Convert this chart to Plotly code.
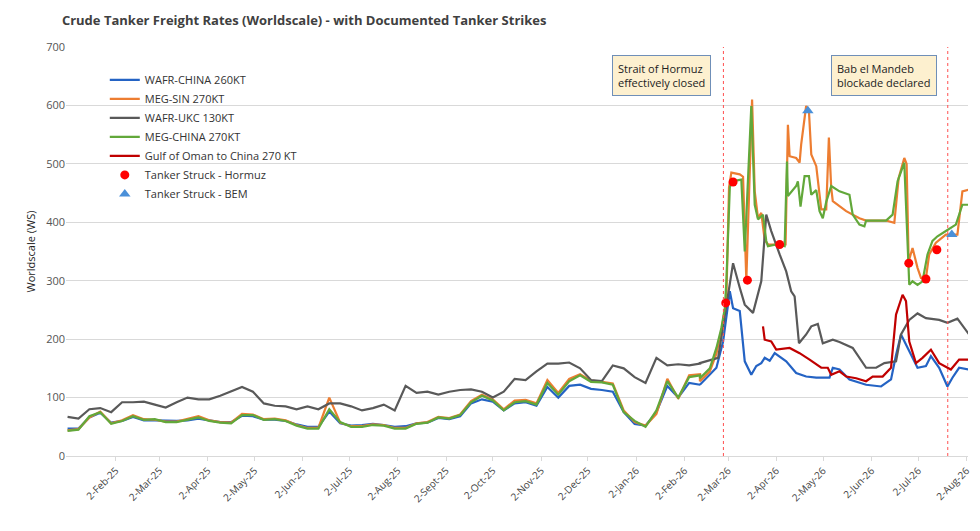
import pandas as pd
import plotly.graph_objects as go

# ---------- weekly data, 2-Jan-25 onward (one value per week) ----------
week_start = "2025-01-02"
ukc_w = [67,64,80,82,75,92,92,93,88,83,92,100,97,97,103,110,118,110,90,86,85,80,85,80,90,90,85,78,82,88,
         78,120,108,110,105,110,113,114,110,100,110,132,130,145,158,158,160,150,130,128,155,150,135,125,168,155,157,155,158]
green_w = [43,45,68,75,55,60,68,62,63,58,58,62,66,60,57,56,70,70,62,63,60,52,47,47,80,58,50,50,53,52,
           47,47,55,57,66,64,70,92,103,95,78,92,94,88,125,105,128,138,127,126,122,75,60,50,78,128,100,135,138]
orange_w = [44,46,66,76,56,61,70,63,62,59,59,63,68,61,58,57,72,71,63,64,61,53,48,48,100,57,51,51,54,53,
            48,48,56,58,67,65,71,94,105,97,80,95,96,90,130,108,132,140,129,127,124,78,58,52,72,132,98,138,140]
blue_w = [47,47,66,74,57,60,67,61,61,60,60,61,64,61,58,58,69,68,62,62,60,54,50,50,76,56,52,53,55,53,
          50,51,56,57,65,63,68,90,97,93,78,90,92,86,118,100,120,122,115,113,110,75,55,52,75,120,100,125,122]

# ---------- crisis period: day offsets from 2-Mar-26 with values ----------
crisis_start = "2026-03-02"
green_d = [-18.1,-11.7,-7.5,-4.3,-2.1,-1.1,1.1,2.1,8.5,10.7,14.9,17.1,19.2,22.4,24.5,25.6,30.9,36.3,37.8,38.4,43.7,44.8,46.5,49.1,51.9,53.4,56.6,58.7,60.8,63.0,66.2,71.5,77.9,80.0,84.3,87.5,88.6,101.4,105.6,108.8,113.1,115.2,116.3,118.4,121.6,124.8,128.0,131.2,134.4,139.8,146.2,150.4,154.7]
green_v = [133,150,185,219,253,299,459,470,473,350,599,430,405,413,368,359,362,359,504,445,462,470,427,479,479,447,455,419,407,435,462,453,447,413,396,393,403,403,413,470,502,356,293,299,293,299,345,368,376,385,396,430,430]
orange_d = [-18.1,-11.7,-7.5,-4.3,-2.1,-1.1,0.6,2.1,7.5,9.6,11.7,15.4,17.1,19.2,21.3,23.5,25.6,33.1,36.9,38.4,39.5,43.7,45.9,46.9,50.1,51.9,53.4,56.6,59.8,63.0,64.7,66.2,67.2,75.8,84.3,88.6,101.4,106.7,109.5,113.1,114.6,115.9,118.4,121.6,123.8,127.0,129.1,133.4,139.8,147.2,150.4,154.7]
orange_v = [128,145,175,215,250,270,460,485,482,478,301,610,453,407,416,370,362,362,362,567,513,510,502,533,599,590,516,496,422,422,545,459,436,419,407,403,403,399,476,510,500,333,356,322,305,305,345,365,379,379,453,456]
ukc_d = [-18.1,-6.4,-2.1,3.2,7.5,10.7,16.0,19.2,21.3,24.5,27.7,33.1,37.3,40.5,42.7,45.5,50.1,53.4,57.6,60.8,67.2,71.5,80.0,88.6,95.0,100.3,107.8,111.0,116.3,121.6,127.0,135.5,140.8,147.2,154.7]
ukc_v = [159,168,242,330,288,259,245,276,299,413,385,345,316,282,273,193,208,222,226,193,199,195,185,151,151,159,162,208,233,244,236,233,228,235,208]
blue_d = [-18.1,-7.5,-3.2,1.1,3.2,7.5,10.7,14.9,18.1,21.3,23.5,26.7,29.9,37.3,43.7,50.1,56.6,65.1,67.2,71.5,77.9,88.6,98.2,104.6,107.8,111.0,115.2,121.6,127.0,130.2,135.5,140.8,144.0,148.3,154.7]
blue_v = [122,151,196,282,253,248,162,139,154,159,168,163,176,162,142,136,134,134,151,148,131,122,119,131,173,208,185,151,154,171,151,119,134,151,148]
oman_d = [22.4,23.5,27.7,30.9,39.5,45.9,52.3,59.8,64.0,66.2,71.5,75.8,82.2,88.6,92.8,99.2,104.6,107.8,112.0,114.2,116.3,120.6,124.8,130.2,135.5,143.0,148.3,154.7]
oman_v = [222,199,196,182,185,176,165,151,151,139,145,136,133,128,136,136,151,242,276,265,196,159,168,182,159,148,165,165]

hormuz_d = [-1.5,3.2,12.4,33.1,116.0,127.0,134.0]
hormuz_v = [262,469,301,362,330,303,353]
bem_d = [51.2,143.6]
bem_v = [591,379]

event_dates = ["2026-02-27", "2026-07-21"]
event_labels = ["Strait of Hormuz<br>effectively closed", "Bab el Mandeb<br>blockade declared"]
event_label_x = ["2026-01-18", "2026-06-10"]

tick_vals = pd.date_range("2025-01-02", "2026-08-02", freq="MS") + pd.Timedelta(days=1)
tick_text = [d.strftime("%-d-%b-%y") for d in tick_vals]
tick_text = [t.replace("Sep-", "Sept-") for t in tick_text]

w0 = pd.Timestamp(week_start)
c0 = pd.Timestamp(crisis_start)
wdates = [w0 + pd.Timedelta(days=7 * i) for i in range(len(ukc_w))]
def cd(ds):
    return [c0 + pd.Timedelta(days=d) for d in ds]

fig = go.Figure()
def line(name, x, y, color):
    fig.add_trace(go.Scatter(x=x, y=y, name=name, mode="lines", line=dict(color=color, width=2.2)))

line("WAFR-CHINA 260KT", wdates + cd(blue_d), blue_w + blue_v, "#2463c4")
line("MEG-SIN 270KT", wdates + cd(orange_d), orange_w + orange_v, "#ed7d31")
line("WAFR-UKC 130KT", wdates + cd(ukc_d), ukc_w + ukc_v, "#595959")
line("MEG-CHINA 270KT", wdates + cd(green_d), green_w + green_v, "#62a83a")
line("Gulf of Oman to China 270 KT", cd(oman_d), oman_v, "#c00000")
fig.add_trace(go.Scatter(x=cd(hormuz_d), y=hormuz_v, mode="markers", name="Tanker Struck - Hormuz",
                         marker=dict(color="#ff0000", size=9)))
fig.add_trace(go.Scatter(x=cd(bem_d), y=bem_v, mode="markers", name="Tanker Struck - BEM",
                         marker=dict(color="#4a90d9", size=10, symbol="triangle-up")))

for d in event_dates:
    fig.add_shape(type="line", x0=d, x1=d, y0=0, y1=1, yref="paper",
                  line=dict(color="#ff5050", width=1, dash="dot"))
for lx, t in zip(event_label_x, event_labels):
    fig.add_annotation(x=lx, y=1.0, yref="paper", text=t, showarrow=False, align="left",
                       xanchor="center", yanchor="top", bgcolor="#fdf0cf", bordercolor="#6f8fb8",
                       borderwidth=1, borderpad=5, font=dict(size=11, color="#222"), yshift=-8)

fig.update_layout(
    width=980, height=531, margin=dict(l=58, r=20, t=39, b=83),
    plot_bgcolor="white", paper_bgcolor="white",
    font=dict(family="Open Sans, Liberation Sans, sans-serif", size=11, color="#404040"),
    title=dict(text="<b>Crude Tanker Freight Rates (Worldscale) - with Documented Tanker Strikes</b>",
               x=0.055, xanchor="left", y=0.985, yanchor="top", font=dict(size=13, color="#404040")),
    legend=dict(x=0.043, y=0.955, xanchor="left", yanchor="top", bgcolor="rgba(0,0,0,0)",
                font=dict(size=11, color="#333"), tracegroupgap=0, itemwidth=30),
    showlegend=True,
)
fig.update_yaxes(range=[0, 700], dtick=100, showgrid=True, gridcolor="#d9d9d9", zeroline=False,
                 automargin=False,
                 title=dict(text="Worldscale (WS)", font=dict(size=11, color="#222"), standoff=8),
                 tickfont=dict(size=11, color="#555"), showline=False)
fig.update_xaxes(range=["2025-01-01", "2026-08-03"], tickvals=tick_vals, ticktext=tick_text,
                 tickangle=-45, showgrid=False, showline=True, linecolor="#d9d9d9", automargin=False,
                 ticks="outside", tickcolor="#d9d9d9", ticklen=4, tickfont=dict(size=10, color="#444"))
fig.write_html("out.html")
